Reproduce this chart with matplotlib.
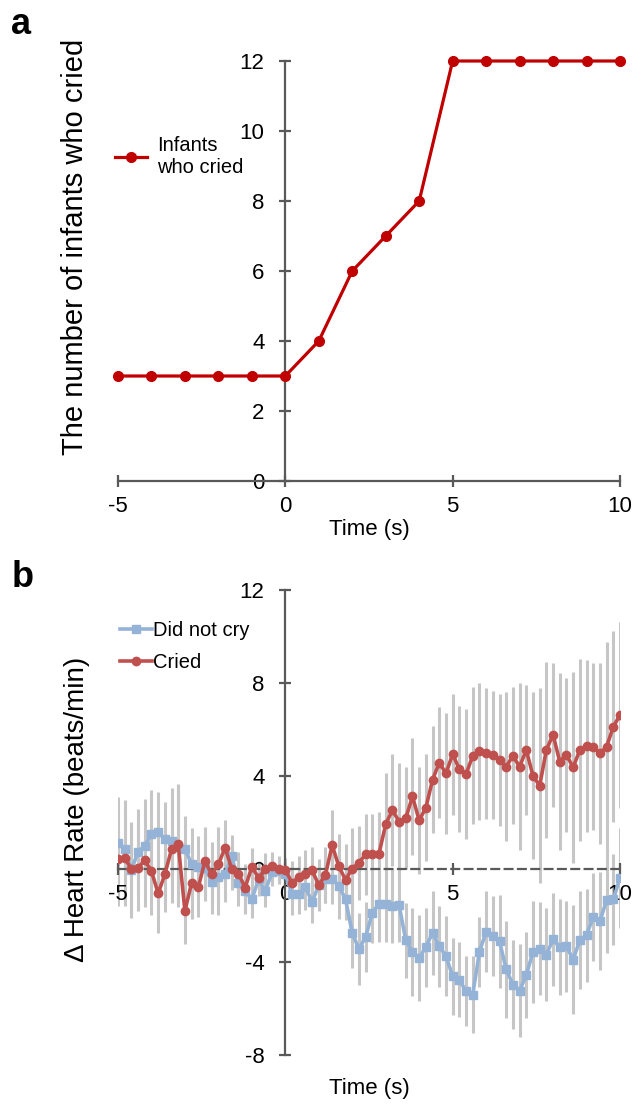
import numpy as np
import matplotlib
matplotlib.use('Agg')
import matplotlib.pyplot as plt

plt.rcParams['font.family'] = ['Liberation Sans', 'DejaVu Sans']
plt.rcParams['axes.unicode_minus'] = False

# panel a: number of infants who cried
time_a = [-5, -4, -3, -2, -1, 0, 1, 2, 3, 4, 5, 6, 7, 8, 9, 10]
n_cried = [3, 3, 3, 3, 3, 3, 4, 6, 7, 8, 12, 12, 12, 12, 12, 12]

# panel b: heart rate change, sampled every 0.2 s from -5 to 10
time_b = np.round(np.arange(-5, 10.001, 0.2), 1)
hr_no_cry = [1.1, 0.85, -0.05, 0.75, 0.99, 1.5, 1.6, 1.27, 1.2, 0.95,
             0.88, 0.2, 0.1, 0.06, -0.55, -0.36, -0.22, 0.56, -0.62, -0.95,
             -1.3, -0.45, -0.95, -0.15, -0.1, -0.2, -1.09, -1.09, -0.78, -1.41,
             -0.7, -0.45, -0.42, -0.73, -1.3, -2.76, -3.44, -2.92, -1.88, -1.49,
             -1.49, -1.58, -1.55, -3.07, -3.56, -3.82, -3.36, -2.74, -3.32, -3.75,
             -4.61, -4.76, -5.26, -5.4, -3.56, -2.7, -2.89, -3.1, -4.32, -4.97,
             -5.23, -4.57, -3.56, -3.43, -3.68, -3.03, -3.36, -3.32, -3.9, -3.06,
             -2.84, -2.07, -2.24, -1.35, -1.31, -0.37]
hr_cried = [0.42, 0.49, -0.01, 0.06, 0.37, -0.09, -1.05, -0.23, 0.85, 1.06,
            -1.81, -0.59, -0.78, 0.34, -0.23, 0.2, 0.92, -0.01, -0.2, -0.8,
            0.09, -0.37, -0.01, 0.13, -0.01, -0.03, -0.6, -0.34, -0.23, -0.06,
            -0.69, -0.25, 1.02, 0.11, -0.47, 0.02, 0.27, 0.63, 0.66, 0.66,
            1.93, 2.53, 2.04, 2.19, 3.12, 2.09, 2.64, 3.84, 4.58, 4.11,
            4.94, 4.29, 4.08, 4.87, 5.06, 4.97, 4.91, 4.68, 4.4, 4.87,
            4.4, 5.12, 4.01, 3.58, 5.12, 5.78, 4.62, 4.91, 4.37, 5.12,
            5.3, 5.26, 4.97, 5.26, 6.12, 6.62]
err_no_cry = [2.0, 2.1, 2.05, 1.85, 2.0, 1.9, 1.7, 1.6, 2.3, 2.6,
              1.4, 1.55, 1.3, 1.45, 1.4, 1.6, 1.2, 0.9, 0.95, 1.0,
              0.8, 0.7, 0.7, 0.6, 0.55, 0.5, 0.9, 0.85, 1.0, 0.9,
              1.0, 1.0, 1.1, 1.4, 0.9, 1.5, 1.55, 1.5, 1.3, 1.65,
              1.65, 1.6, 1.6, 1.6, 1.9, 1.85, 1.7, 1.8, 1.75, 1.72,
              1.65, 1.6, 1.5, 1.65, 1.5, 1.75, 1.72, 2.0, 2.1, 1.9,
              2.0, 1.85, 2.2, 2.0, 2.0, 2.0, 2.05, 1.95, 2.35, 2.1,
              2.0, 1.9, 2.1, 2.25, 1.95, 2.15]
err_cried = [2.0, 2.1, 2.05, 1.85, 2.0, 1.9, 1.7, 1.6, 2.3, 2.6,
             1.4, 1.55, 1.3, 1.45, 1.4, 1.6, 1.2, 0.9, 0.95, 1.0,
             0.8, 0.7, 0.7, 0.6, 0.55, 0.5, 0.95, 0.9, 1.05, 1.0,
             1.1, 1.2, 1.5, 1.4, 1.55, 1.75, 1.6, 1.75, 1.7, 1.8,
             2.2, 2.4, 2.5, 2.2, 2.5, 2.3, 2.3, 2.3, 2.4, 2.6,
             2.6, 2.7, 2.8, 2.95, 2.95, 2.8, 2.75, 2.85, 3.2, 2.95,
             3.6, 2.8, 3.6, 4.2, 3.8, 3.1, 3.8, 3.3, 4.1, 3.9,
             3.7, 3.6, 3.9, 4.5, 4.1, 4.0]

axis_col = '#595959'
tick_size = 16


def style_axes(ax):
    for s in ['top', 'right']:
        ax.spines[s].set_visible(False)
    for s in ['left', 'bottom']:
        ax.spines[s].set_color(axis_col)
        ax.spines[s].set_linewidth(1.6)
    ax.spines['left'].set_position(('data', 0))
    ax.tick_params(direction='inout', length=8, width=1.6, color=axis_col,
                   labelsize=tick_size, labelcolor='black')
    ax.tick_params(axis='y', pad=11)
    ax.tick_params(axis='x', pad=7)
    ax.set_xticks([-5, 0, 5, 10])
    ax.set_xlim(-5, 10)


fig = plt.figure(figsize=(6.34, 11.05), dpi=100)

# ---- a
ax_a = fig.add_axes([0.1861, 0.5647, 0.7918, 0.3801])
style_axes(ax_a)
ax_a.set_ylim(0, 12)
ax_a.set_yticks(range(0, 13, 2))
ax_a.plot(time_a, n_cried, color='#c00000', lw=2.3, marker='o', ms=7,
          label='Infants\nwho cried', clip_on=False, zorder=3)
ax_a.set_xlabel('Time (s)', fontsize=16, labelpad=1)
ax_a.set_ylabel('The number of infants who cried', fontsize=21)
ax_a.yaxis.set_label_coords(-0.058, 0.557)
ax_a.legend(loc='upper left', bbox_to_anchor=(-0.022, 0.84), frameon=False,
            fontsize=14.5, handlelength=1.6, handletextpad=0.5,
            borderaxespad=0)

# ---- b
ax_b = fig.add_axes([0.1861, 0.04525, 0.7918, 0.4208])
style_axes(ax_b)
ax_b.spines['bottom'].set_position(('data', 0))
ax_b.spines['bottom'].set_linestyle((0, (3.5, 2.5)))
ax_b.set_ylim(-8, 12)
ax_b.set_yticks(range(-8, 13, 4))
ax_b.errorbar(time_b, hr_no_cry, yerr=err_no_cry, fmt='none',
              ecolor='#c6c6c6', elinewidth=2.2, capsize=0, zorder=1)
ax_b.errorbar(time_b, hr_cried, yerr=err_cried, fmt='none',
              ecolor='#c6c6c6', elinewidth=2.2, capsize=0, zorder=1)
ax_b.plot(time_b, hr_no_cry, color='#95b3d7', lw=2.6, marker='s', ms=6,
          label='Did not cry', zorder=3)
ax_b.plot(time_b, hr_cried, color='#c0504d', lw=2.6, marker='o', ms=6,
          label='Cried', zorder=4)
ax_b.set_ylabel('Δ Heart Rate (beats/min)', fontsize=20)
ax_b.yaxis.set_label_coords(-0.055, 0.529)
ax_b.text(0.5, -0.073, 'Time (s)', transform=ax_b.transAxes, ha='center',
          va='center', fontsize=16)
ax_b.legend(loc='upper left', bbox_to_anchor=(-0.012, 0.95), frameon=False,
            fontsize=14.5, handlelength=1.6, handletextpad=0.05,
            labelspacing=0.62, borderaxespad=0)

fig.text(0.018, 0.978, 'a', fontsize=26, fontweight='bold', va='center')
fig.text(0.018, 0.477, 'b', fontsize=26, fontweight='bold', va='center')

fig.savefig('out.png', dpi=100)
